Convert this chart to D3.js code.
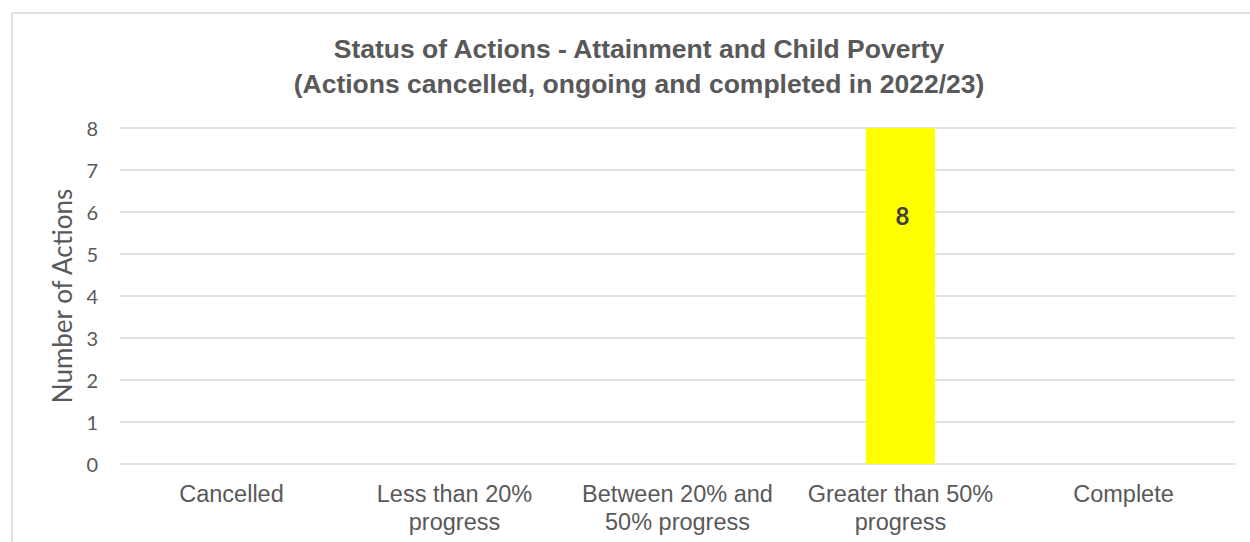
<!DOCTYPE html>
<html><head><meta charset="utf-8">
<script src="https://cdn.jsdelivr.net/npm/d3@7"></script>
<style>body{margin:0;background:#fff;font-family:"Liberation Sans",Arial,sans-serif;}</style>
</head><body>
<svg id="c" width="1250" height="542"></svg>
<script>
const categories = [["Cancelled"],["Less than 20%","progress"],["Between 20% and","50% progress"],["Greater than 50%","progress"],["Complete"]];
const values = [0,0,0,8,0];
const yTicks = [0,1,2,3,4,5,6,7,8];
const titleLines = ["Status of Actions - Attainment and Child Poverty","(Actions cancelled, ongoing and completed in 2022/23)"];

const svg = d3.select("#c");
svg.append("rect").attr("x",12).attr("y",13).attr("width",1250).attr("height",560)
  .attr("fill","#fff").attr("stroke","#d9d9d9").attr("stroke-width",1.5);

const m = {l:120, r:1235, t:128, b:464};
const x = d3.scaleBand().domain(d3.range(categories.length)).range([m.l,m.r]).paddingInner(0.69).paddingOuter(0.345);
const y = d3.scaleLinear().domain([0,8]).range([m.b,m.t]);

const g = svg.append("g");
g.selectAll("line.grid").data(yTicks).join("line")
  .attr("x1",m.l).attr("x2",m.r).attr("y1",d=>y(d)).attr("y2",d=>y(d))
  .attr("stroke","#d9d9d9").attr("stroke-width",1.5);

const yAxis = d3.axisLeft(y).tickValues(yTicks).tickSize(0).tickPadding(0);
const ya = svg.append("g").attr("transform",`translate(${m.l-22},0)`).call(yAxis);
ya.select(".domain").remove();
ya.selectAll("text").attr("font-size",20).attr("fill","#595959").attr("font-family","Lato, sans-serif").attr("dy","0.36em");

g.selectAll("rect.bar").data(values).join("rect")
  .attr("x",(d,i)=>x(i)).attr("width",x.bandwidth())
  .attr("y",d=>y(d)).attr("height",d=>y(0)-y(d)).attr("fill","#ffff00");

g.selectAll("text.lbl").data(values.map((v,i)=>({v,i})).filter(d=>d.v>0)).join("text")
  .attr("x",d=>x(d.i)+x.bandwidth()/2+2).attr("y",d=>y(d.v)+97)
  .attr("text-anchor","middle").attr("font-size",24).attr("font-weight","bold").attr("fill","#404040")
  .attr("font-family","Lato, sans-serif")
  .text(d=>d.v);

categories.forEach((lines,i)=>{
  const cx = x(i)+x.bandwidth()/2;
  const t = svg.append("text").attr("text-anchor","middle").attr("font-size",23.5).attr("fill","#595959");
  lines.forEach((ln,j)=>t.append("tspan").attr("x",cx).attr("y",502+j*28).text(ln));
});

svg.append("text").attr("transform",`translate(72,296) rotate(-90)`).attr("text-anchor","middle")
  .attr("font-size",26).attr("fill","#595959").attr("font-family","Lato, sans-serif").text("Number of Actions");

const tt = svg.append("text").attr("text-anchor","middle").attr("font-size",26.5).attr("font-weight","bold").attr("fill","#595959");
titleLines.forEach((ln,j)=>tt.append("tspan").attr("x",639).attr("y",58+j*35).text(ln));
</script>
</body></html>
